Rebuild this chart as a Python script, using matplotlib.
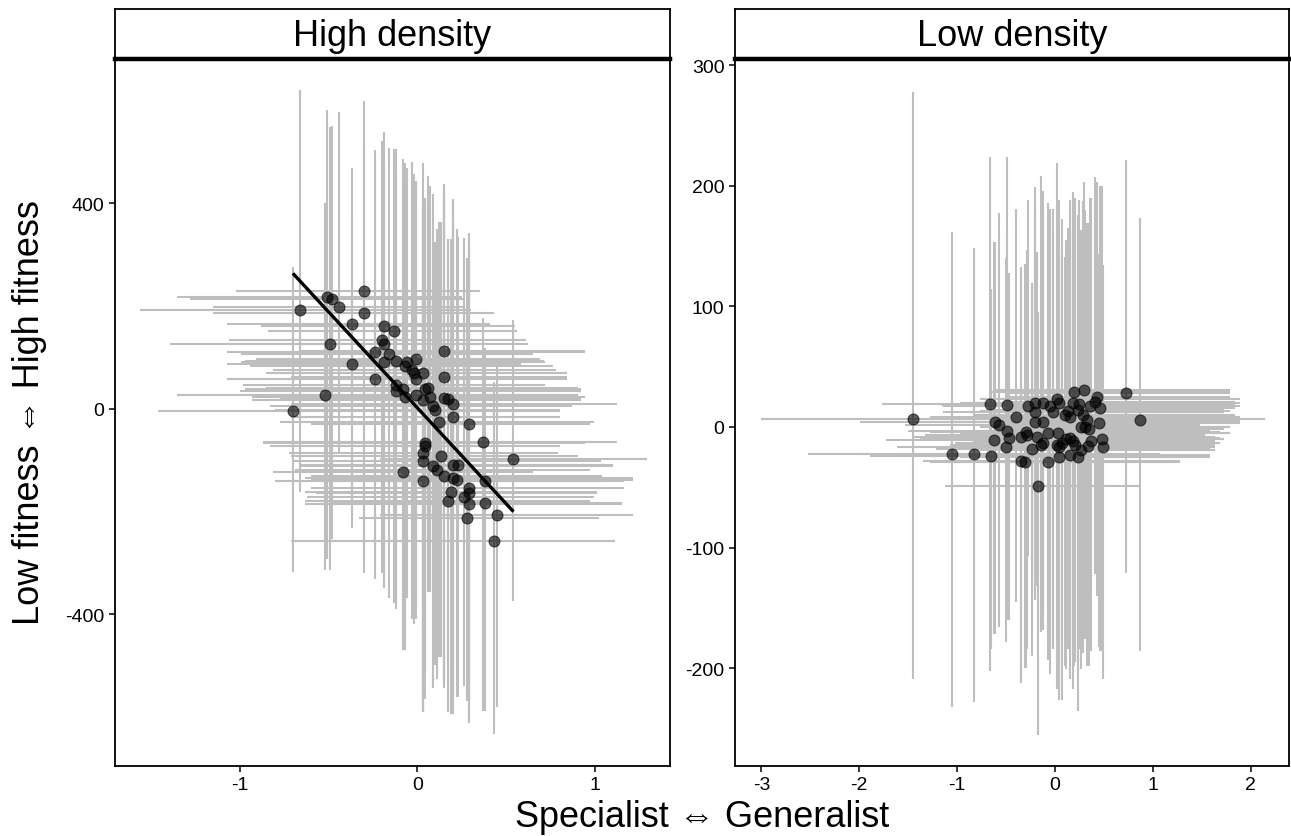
import numpy as np
import matplotlib
matplotlib.use("Agg")
import matplotlib.pyplot as plt

plt.rcParams['font.family'] = ['Liberation Sans', 'Noto Sans CJK JP', 'DejaVu Sans']
plt.rcParams['axes.unicode_minus'] = False

# ---------------- High density panel ----------------
hd_x = [-0.66, -0.51, -0.48, -0.30, -0.44, -0.30, -0.37, -0.19, -0.13, -0.20,
        -0.19, -0.49, -0.24, -0.16, -0.19, -0.12, -0.37, -0.06, -0.01, -0.07,
        -0.03, -0.02, 0.03, -0.01, 0.15, 0.15, -0.24, -0.12, -0.12, -0.08,
        -0.07, -0.01, 0.03, 0.04, 0.06, 0.07, 0.15, 0.17, 0.20, 0.09,
        0.10, -0.52, -0.70, 0.20, 0.12, 0.29, 0.37, 0.54, 0.04, 0.04,
        0.03, 0.13, 0.03, -0.08, 0.09, 0.11, 0.20, 0.23, 0.15, 0.03,
        0.20, 0.22, 0.38, 0.19, 0.29, 0.29, 0.26, 0.17, 0.29, 0.38,
        0.28, 0.45, 0.43]
hd_y = [192, 217, 213, 229, 198, 186, 166, 161, 151, 135,
        126, 126, 110, 106, 92, 94, 87, 92, 98, 83,
        75, 69, 69, 59, 112, 63, 59, 46, 34, 38,
        24, 28, 18, 38, 40, 24, 22, 20, 9, 5,
        -3, 28, -5, -15, -26, -30, -65, -98, -67, -73,
        -85, -91, -102, -122, -112, -118, -110, -110, -131, -141,
        -135, -139, -141, -161, -153, -164, -172, -180, -186, -184,
        -213, -207, -258]
hd_xlo = [-1.56, -1.35, -1.28, -1.02, -1.15, -1.15, -1.07, -0.88, -0.84, -1.06,
          -1.39, -1.05, -1.07, -0.99, -0.99, -0.97, -1.07, -0.94, -0.91, -0.94,
          -0.81, -0.85, -0.83, -1.07, -0.66, -0.71, -1.07, -0.98, -1.00, -0.97,
          -0.93, -0.91, -0.93, -0.88, -0.85, -0.83, -0.77, -0.74, -0.71, -0.83,
          -0.80, -1.35, -1.46, -0.71, -0.77, -0.60, -0.87, -0.21, -0.87, -0.83,
          -0.72, -0.71, -0.70, -0.81, -0.66, -0.69, -0.66, -0.66, -0.60, -0.80,
          -0.63, -0.60, -0.54, -0.63, -0.60, -0.57, -0.62, -0.63, -0.63, -0.49,
          -0.33, -0.21, -0.71]
hd_xhi = [0.30, 0.25, 0.27, 0.35, 0.27, 0.43, 0.41, 0.55, 0.56, 0.61,
          0.62, 0.35, 0.94, 0.65, 0.72, 0.71, 0.58, 0.72, 0.69, 0.76,
          0.78, 0.84, 0.84, 0.84, 0.94, 0.84, 0.75, 0.72, 0.92, 0.89,
          0.94, 0.90, 0.92, 0.92, 0.90, 0.94, 0.92, 0.87, 1.12, 0.87,
          0.80, 0.80, 0.80, 0.80, 0.99, 0.97, 1.12, 1.29, 0.94, 0.80,
          0.79, 0.90, 1.03, 0.65, 1.10, 0.97, 1.10, 0.97, 1.04, 1.04,
          1.21, 1.21, 1.16, 1.01, 1.16, 1.01, 0.99, 0.97, 1.15, 1.15,
          1.02, 1.21, 1.11]
hd_ylo = [-161, -292, -253, -319, -83, -292, -188, -329, -378, -319,
          -349, -313, -331, -369, -349, -390, -232, -369, -387, -470,
          -408, -418, -589, -387, -532, -544, -331, -378, -390, -470,
          -447, -408, -444, -515, -356, -356, -532, -589, -593, -540,
          -499, -313, -317, -554, -482, -569, -587, -373, -505, -564,
          -589, -482, -564, -470, -544, -525, -495, -560, -532, -589,
          -554, -560, -587, -593, -612, -569, -540, -589, -612, -587,
          -569, -581, -633]
hd_yhi = [620, 581, 550, 599, 577, 526, 468, 538, 505, 521,
          488, 548, 503, 507, 478, 505, 375, 468, 443, 478,
          480, 458, 478, 429, 437, 410, 488, 449, 464, 486,
          462, 443, 394, 410, 453, 433, 419, 330, 408, 419,
          324, 400, 277, 371, 363, 334, 176, 174, 410, 390,
          400, 363, 390, 437, 351, 351, 408, 334, 437, 410,
          371, 351, 118, 330, 342, 322, 332, 330, 312, 98,
          293, 92, 52]
# linear fit drawn in the High density panel
hd_fit_slope = -374.0
hd_fit_intercept = 2.0

# ---------------- Low density panel ----------------
ld_x = [-1.45, -1.05, -0.83, -0.65, -0.66, -0.49, -0.61, -0.57, -0.40, -0.49,
        -0.47, -0.62, -0.50, -0.35, -0.30, -0.29, -0.35, -0.31, -0.24, -0.17,
        -0.28, -0.21, -0.20, -0.21, -0.12, -0.18, -0.12, -0.14, -0.07, -0.07,
        -0.12, -0.05, -0.02, 0.02, 0.04, 0.03, 0.02, 0.04, 0.07, 0.04,
        0.10, 0.13, 0.15, 0.11, 0.15, 0.18, 0.19, 0.18, 0.24, 0.23,
        0.15, 0.23, 0.20, 0.26, 0.30, 0.29, 0.33, 0.26, 0.31, 0.36,
        0.41, 0.43, 0.35, 0.37, 0.34, 0.46, 0.45, 0.48, 0.49, 0.72,
        0.87]
ld_y = [7, -22, -22, -24, 19, 18, 4, 2, 8, -3,
        -9, -11, -17, -8, -4, -7, -28, -29, -18, -49,
        17, 20, 12, 4, 4, -8, -13, -15, -29, -5,
        20, 17, 12, 23, 20, -5, -15, -17, -13, -25,
        10, 13, 8, -10, -9, -12, 29, 20, 19, 14,
        -23, -25, -15, -19, 31, 10, 6, 0, 0, 17,
        21, 25, -2, -12, -16, 16, 3, -10, -17, 28,
        6]
ld_xlo = [-3.00, -2.52, -1.99, -1.89, -1.77, -1.17, -1.99, -1.53, -1.28, -1.50,
          -1.38, -1.73, -1.61, -1.45, -1.28, -1.33, -1.35, -1.28, -1.22, -1.12,
          -1.14, -0.97, -1.14, -1.12, -1.07, -1.17, -1.02, -1.07, -1.02, -0.97,
          -0.92, -0.87, -0.82, -0.77, -0.77, -0.92, -0.97, -0.92, -0.87, -0.97,
          -0.82, -0.77, -0.71, -0.87, -0.82, -0.82, -0.66, -0.71, -0.66, -0.71,
          -0.92, -0.82, -0.82, -0.77, -0.61, -0.66, -0.61, -0.77, -0.66, -0.56,
          -0.51, -0.46, -0.61, -0.61, -0.66, -0.46, -0.51, -0.51, -0.46, -0.46,
          -0.26]
ld_xhi = [2.14, 1.07, 0.77, 0.97, 0.66, 0.97, 1.28, 1.48, 1.38, 1.58,
          1.43, 1.28, 1.48, 1.63, 1.68, 1.53, 1.28, 1.22, 1.58, 0.87,
          1.73, 1.79, 1.73, 1.79, 1.89, 1.63, 1.68, 1.63, 1.28, 1.79,
          1.79, 1.73, 1.73, 1.89, 1.84, 1.79, 1.63, 1.63, 1.68, 1.58,
          1.73, 1.79, 1.89, 1.73, 1.68, 1.63, 1.79, 1.89, 1.84, 1.73,
          1.58, 1.53, 1.63, 1.63, 1.79, 1.84, 1.89, 1.79, 1.79, 1.89,
          1.84, 1.79, 1.73, 1.63, 1.63, 1.84, 1.89, 1.68, 1.63, 1.79,
          1.89]
ld_ylo = [-209, -232, -228, -184, -202, -154, -172, -166, -145, -160,
          -160, -172, -178, -212, -200, -184, -212, -200, -190, -255,
          -107, -118, -135, -143, -160, -132, -168, -170, -193, -176,
          -151, -205, -184, -194, -176, -209, -217, -226, -226, -213,
          -198, -184, -176, -201, -193, -217, -198, -188, -184, -193,
          -209, -235, -195, -201, -161, -187, -198, -184, -176, -186,
          -122, -140, -198, -186, -193, -186, -182, -186, -209, -121,
          -186]
ld_yhi = [278, 162, 148, 114, 224, 224, 153, 177, 181, 163,
          128, 153, 140, 133, 135, 147, 133, 135, 119, 95,
          188, 190, 199, 180, 196, 145, 172, 208, 155, 186,
          180, 181, 181, 219, 188, 155, 163, 147, 172, 139,
          141, 165, 188, 155, 163, 195, 174, 180, 188, 176,
          147, 79, 190, 155, 203, 187, 169, 163, 180, 190,
          207, 203, 169, 190, 155, 200, 143, 200, 134, 221,
          173]

panel_titles = ["High density", "Low density"]
x_label = "Specialist \u21d4 Generalist"
y_label = "Low fitness \u21d4 High fitness"

hd_xticks = [-1, 0, 1]
hd_yticks = [-400, 0, 400]
ld_xticks = [-3, -2, -1, 0, 1, 2]
ld_yticks = [-200, -100, 0, 100, 200, 300]

W, H = 1291, 837
fig = plt.figure(figsize=(W / 100, H / 100), dpi=100)

def fx(px):
    return px / W

def fy(py):
    return 1 - py / H

panel_top, panel_bot = 60, 767
strip_top = 10
panels = [(115, 670), (735, 1289)]

err_col = "#BEBEBE"

def style_axes(ax):
    for s in ax.spines.values():
        s.set_linewidth(1.3)
        s.set_color("black")
    ax.tick_params(axis="both", direction="out", length=4.5, width=1.1,
                   labelsize=14, color="black", labelcolor="black", pad=3)

axes = []
for i, (l, r) in enumerate(panels):
    ax = fig.add_axes([fx(l), fy(panel_bot), fx(r) - fx(l), fy(panel_top) - fy(panel_bot)])
    style_axes(ax)
    axes.append(ax)
    sax = fig.add_axes([fx(l), fy(panel_top), fx(r) - fx(l), fy(strip_top) - fy(panel_top)])
    sax.set_xticks([]); sax.set_yticks([])
    for s in sax.spines.values():
        s.set_linewidth(1.3)
    sax.spines["bottom"].set_linewidth(3.2)
    sax.text(0.5, 0.48, panel_titles[i], ha="center", va="center", fontsize=26,
             transform=sax.transAxes)

# High density
ax = axes[0]
ax.vlines(hd_x, hd_ylo, hd_yhi, color=err_col, lw=1.5, zorder=1)
ax.hlines(hd_y, hd_xlo, hd_xhi, color=err_col, lw=1.5, zorder=1)
ax.scatter(hd_x, hd_y, s=62, color="black", alpha=0.62, edgecolors="black",
           linewidths=0.8, zorder=3)
xs = np.array([min(hd_x), max(hd_x)])
ax.plot(xs, hd_fit_intercept + hd_fit_slope * xs, color="black", lw=2.4, zorder=4,
        solid_capstyle="butt")
ax.set_xlim(-1.70, 1.42)
ax.set_ylim(-695, 681)
ax.set_xticks(hd_xticks)
ax.set_yticks(hd_yticks)
ax.set_xticklabels([str(v) for v in hd_xticks])
ax.set_yticklabels([str(v) for v in hd_yticks])

# Low density
ax = axes[1]
ax.vlines(ld_x, ld_ylo, ld_yhi, color=err_col, lw=1.5, zorder=1)
ax.hlines(ld_y, ld_xlo, ld_xhi, color=err_col, lw=1.5, zorder=1)
ax.scatter(ld_x, ld_y, s=62, color="black", alpha=0.62, edgecolors="black",
           linewidths=0.8, zorder=3)
ax.set_xlim(-3.27, 2.39)
ax.set_ylim(-281, 305)
ax.set_xticks(ld_xticks)
ax.set_yticks(ld_yticks)
ax.set_xticklabels([str(v) for v in ld_xticks])
ax.set_yticklabels([str(v) for v in ld_yticks])

fig.text(fx(702), fy(818), x_label, ha="center", va="center", fontsize=26)
fig.text(fx(30), fy(413), y_label, ha="center", va="center", fontsize=26,
         rotation=90)

fig.savefig("out.png", dpi=100)
